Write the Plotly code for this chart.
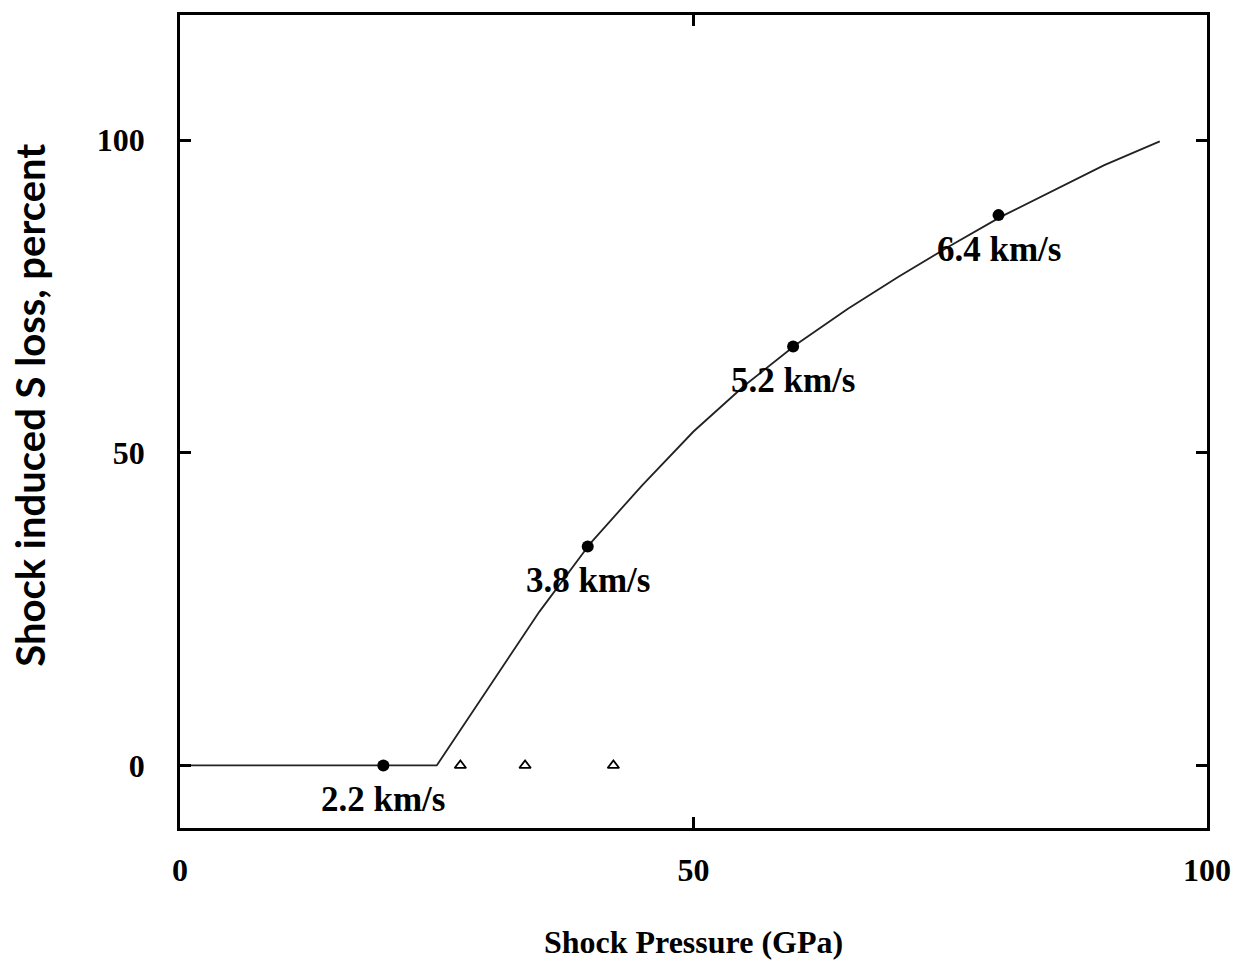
import plotly.graph_objects as go

# Fitted curve
curve_x = [0, 25.0, 30, 35, 40, 45, 50, 55, 60, 65, 70, 75, 80, 85, 90, 95.4]
curve_y = [0, 0, 12.3, 24.6, 35.6, 44.8, 53.4, 60.8, 67.3, 73.0, 78.2, 83.1, 87.8, 91.9, 96.0, 99.8]

# Measured points (filled circles) with impact velocity labels
pt_x = [19.8, 39.7, 59.7, 79.7]
pt_y = [0, 35, 67, 88]
pt_labels = ["2.2 km/s", "3.8 km/s", "5.2 km/s", "6.4 km/s"]

# Open triangles near zero
tri_x = [27.3, 33.6, 42.2]
tri_y = [0, 0, 0]

x_ticks = [0, 50, 100]
y_ticks = [0, 50, 100]

FONT = "Liberation Serif"
SANS = "Lato"

fig = go.Figure()
fig.add_trace(go.Scatter(x=curve_x, y=curve_y, mode="lines",
                         line=dict(color="#222", width=1.8),
                         showlegend=False, hoverinfo="skip"))
fig.add_trace(go.Scatter(x=pt_x, y=pt_y, mode="markers",
                         marker=dict(symbol="circle", size=12, color="black"),
                         showlegend=False))
fig.add_trace(go.Scatter(x=tri_x, y=tri_y, mode="markers",
                         marker=dict(symbol="triangle-up-open", size=10, color="black",
                                     line=dict(width=1.8, color="black")),
                         showlegend=False))

for x, y, t in zip(pt_x, pt_y, pt_labels):
    fig.add_annotation(x=x, y=y, text="<b>" + t + "</b>", showarrow=False, yshift=-34,
                       font=dict(family=FONT, size=35, color="black"))

# y-axis title placed as a rotated annotation to match its offset position
fig.add_annotation(xref="paper", yref="paper", x=-0.1456, y=0.52,
                   text="<b>Shock induced S loss, percent</b>", textangle=-90,
                   showarrow=False, xanchor="center", yanchor="middle",
                   font=dict(family=SANS, size=40, color="black"))

axis_common = dict(showline=True, mirror="ticks", linecolor="black", linewidth=2.5,
                   ticks="inside", ticklen=11, tickwidth=2.5, tickcolor="black",
                   showgrid=False, zeroline=False,
                   tickfont=dict(family=FONT, size=32, color="black", weight="bold"))

fig.update_xaxes(range=[0, 100], tickvals=x_ticks, ticktext=[str(v) for v in x_ticks],
                 ticklabelstandoff=12,
                 title=dict(text="<b>Shock Pressure (GPa)</b>", standoff=44,
                            font=dict(family=FONT, size=32, color="black")),
                 **axis_common)
fig.update_yaxes(range=[-10, 120], tickvals=y_ticks, ticktext=[str(v) for v in y_ticks],
                 ticklabelstandoff=26,
                 **axis_common)

fig.update_layout(width=1243, height=971,
                  margin=dict(l=180, r=33, t=15, b=143),
                  paper_bgcolor="white", plot_bgcolor="white")

fig.write_html("out.html")
